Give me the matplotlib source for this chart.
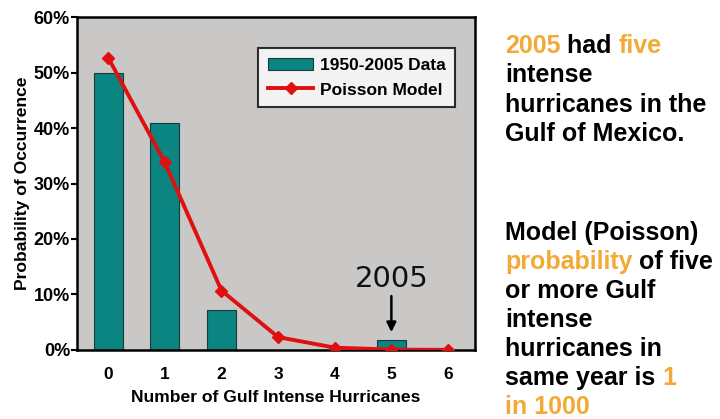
import numpy as np
import matplotlib
matplotlib.use('Agg')
import matplotlib.pyplot as plt

# ----------------------------------------------------------------
# DATA
# ----------------------------------------------------------------
counts      = [0, 1, 2, 3, 4, 5, 6]
observed    = [50.0, 41.0, 7.2, 0.0, 0.0, 1.8, 0.0]      # 1950-2005 data (%)
poisson     = [52.7, 33.8, 10.7, 2.3, 0.4, 0.05, 0.0]    # Poisson model (%)
y_ticks     = [0, 10, 20, 30, 40, 50, 60]
y_labels    = [f'{v}%' for v in y_ticks]

# right-side text: lines of (segment, is_highlight)
block1 = [
    [('2005', True), (' had ', False), ('five', True)],
    [('intense', False)],
    [('hurricanes in the', False)],
    [('Gulf of Mexico.', False)],
]
block2 = [
    [('Model (Poisson)', False)],
    [('probability', True), (' of five', False)],
    [('or more Gulf', False)],
    [('intense', False)],
    [('hurricanes in', False)],
    [('same year is ', False), ('1', True)],
    [('in 1000', True)],
]

TEAL   = '#0a8582'
RED    = '#e01010'
GREY   = '#cac8c6'
ORANGE = '#f3a935'
FONT   = 'Liberation Sans'

plt.rcParams['font.family'] = [FONT, 'DejaVu Sans']

fig = plt.figure(figsize=(7.2, 4.19), dpi=100)
ax = fig.add_axes([0.107, 0.165, 0.553, 0.794])
ax.set_facecolor(GREY)

bars = ax.bar(counts, observed, width=0.51, color=TEAL, edgecolor='#1a3a3a',
              linewidth=0.8, label='1950-2005 Data', zorder=2)
line, = ax.plot(counts, poisson, color=RED, linewidth=2.8, marker='D',
                markersize=6.5, label='Poisson Model', zorder=3)

ax.set_xlim(-0.55, 6.48)
ax.set_ylim(0, 60)
ax.set_yticks(y_ticks)
ax.set_yticklabels(y_labels, fontweight='bold', fontsize=13)
ax.set_xticks(counts)
ax.set_xticklabels([str(c) for c in counts], fontweight='bold', fontsize=12.5)
ax.tick_params(axis='x', length=0, pad=12)
ax.tick_params(axis='y', length=4, width=1.5, pad=1)
for s in ax.spines.values():
    s.set_linewidth(1.8)
    s.set_color('black')

ax.set_xlabel('Number of Gulf Intense Hurricanes', fontweight='bold',
              fontsize=12.6, labelpad=6)
ax.set_ylabel('Probability of Occurrence', fontweight='bold',
              fontsize=12.6, labelpad=3)

# 2005 annotation
ax.annotate('', xy=(5, 2.7), xytext=(5, 10.2),
            arrowprops=dict(arrowstyle='-|>', color='black', lw=1.8,
                            mutation_scale=14))
ax.text(5, 12.8, '2005', ha='center', va='center', fontsize=21,
        family='DejaVu Sans', color='#111111')

leg = ax.legend([bars, line], ['1950-2005 Data', 'Poisson Model'],
                loc='upper right', bbox_to_anchor=(0.972, 0.933),
                frameon=True, fancybox=False, edgecolor='black',
                prop={'weight': 'bold', 'size': 12.5}, handlelength=2.6,
                borderpad=0.55, labelspacing=0.55, handletextpad=0.4)
leg.get_frame().set_linewidth(1.5)
leg.get_frame().set_facecolor('white')

# right-side text
renderer = fig.canvas.get_renderer()


def draw_line(segments, x0, y0):
    x = x0
    for txt, hi in segments:
        t = fig.text(x, y0, txt, fontsize=18, fontweight='bold',
                     color=ORANGE if hi else 'black', va='center',
                     ha='left', transform=None)
        bb = t.get_window_extent(renderer=renderer)
        x = bb.x1


x0 = 505
for i, line_ in enumerate(block1):
    draw_line(line_, x0, 419 - (46 + i * 29.3))
for i, line_ in enumerate(block2):
    draw_line(line_, x0, 419 - (233 + i * 29.0))

fig.savefig('out.png', dpi=100)
